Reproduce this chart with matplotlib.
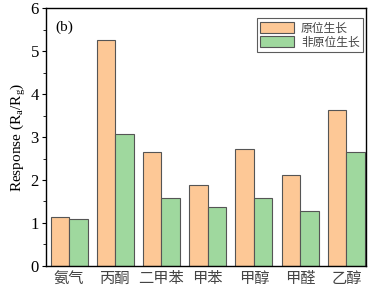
import matplotlib.pyplot as plt
import numpy as np

plt.rcParams['font.family'] = ['Liberation Serif', 'Noto Sans CJK SC']
plt.rcParams['mathtext.fontset'] = 'custom'
plt.rcParams['mathtext.rm'] = 'Liberation Serif'
plt.rcParams['mathtext.it'] = 'Liberation Serif'

gases = ['氨气', '丙酮', '二甲苯', '甲苯', '甲醇', '甲醛', '乙醇']
in_situ = [1.13, 5.25, 2.64, 1.88, 2.71, 2.12, 3.63]
ex_situ = [1.10, 3.08, 1.57, 1.36, 1.59, 1.27, 2.64]

fig = plt.figure(figsize=(3.73, 2.90), dpi=100)
ax = fig.add_axes([0.123, 0.083, 0.858, 0.889])

x = np.arange(len(gases))
w = 0.4
ax.bar(x - w / 2, in_situ, w, color='#fdc896', edgecolor='#555555', lw=0.8, label='原位生长')
ax.bar(x + w / 2, ex_situ, w, color='#9fd89e', edgecolor='#555555', lw=0.8, label='非原位生长')

ax.set_xlim(-0.5, 6.42)
ax.set_ylim(0, 6)
ax.set_xticks(x)
ax.set_xticklabels(gases, fontsize=11, family=['Noto Sans CJK SC'], color='#444444')
ax.tick_params(axis='x', length=0, pad=3)
ax.set_yticks(range(7))
ax.set_yticks(np.arange(0.5, 6, 1), minor=True)
ax.tick_params(axis='y', direction='out', length=3, width=0.8, labelsize=12, pad=2)
ax.tick_params(axis='y', which='minor', direction='out', length=2, width=0.6)
ax.set_ylabel('Response (R$_a$/R$_g$)', fontsize=11, labelpad=2)
for s in ax.spines.values():
    s.set_linewidth(1.0)

ax.text(0.03, 0.91, '(b)', transform=ax.transAxes, fontsize=11)
leg = ax.legend(loc='upper right', bbox_to_anchor=(0.99, 0.96),
                prop={'family': ['Noto Sans CJK SC'], 'size': 8.5},
                frameon=True, fancybox=False, edgecolor='#333333',
                handlelength=2.9, handleheight=1.1, borderpad=0.25, labelspacing=0.1,
                handletextpad=0.6, borderaxespad=0)
leg.get_frame().set_linewidth(0.8)
for t in leg.get_texts():
    t.set_color('#444444')

plt.savefig('out.png', dpi=100)
